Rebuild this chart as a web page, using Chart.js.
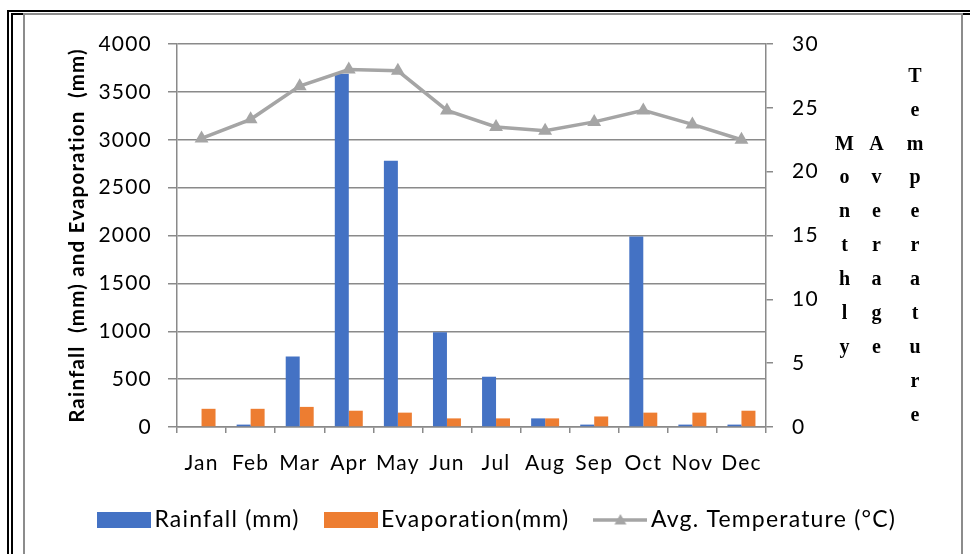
<!DOCTYPE html>
<html>
<head>
<meta charset="utf-8">
<script src="https://cdn.jsdelivr.net/npm/chart.js@4.4.1/dist/chart.umd.min.js"></script>
<style>
  html, body { margin: 0; padding: 0; background: #fff; }
  #wrap { position: relative; width: 970px; height: 554px; overflow: hidden; background: #fff; }
  .frame { position: absolute; box-sizing: border-box; }
  #outer { left: 7px; top: 10px; width: 1000px; height: 600px; border: 2px solid #000; }
  #inner { left: 11px; top: 13px; width: 1000px; height: 600px; border: 2px solid #000; }
  #panel { left: 23px; top: 13px; width: 940px; height: 600px; border: 2px solid #8c8c8c; background: #fff; }
  #c { position: absolute; left: 0; top: 0; }
</style>
</head>
<body>
<div id="wrap">
  <div class="frame" id="outer"></div>
  <div class="frame" id="inner"></div>
  <div class="frame" id="panel"></div>
  <canvas id="c" width="970" height="554"></canvas>
</div>
<script>
// Monthly climate record
const months = ['Jan', 'Feb', 'Mar', 'Apr', 'May', 'Jun', 'Jul', 'Aug', 'Sep', 'Oct', 'Nov', 'Dec'];
const rainfall = [0, 25, 735, 3690, 2780, 990, 525, 90, 25, 1990, 25, 25];
const evaporation = [190, 190, 210, 170, 150, 90, 90, 90, 110, 150, 150, 170];
const avgTemperature = [22.6, 24.1, 26.7, 28.0, 27.9, 24.8, 23.5, 23.2, 23.9, 24.8, 23.7, 22.5];

const seriesNames = ['Rainfall (mm)', 'Evaporation(mm)', 'Avg. Temperature (°C)'];
const leftAxisTitle = 'Rainfall  (mm) and Evaporation  (mm)';
const rightAxisWords = ['Monthly', 'Average', 'Temperature'];

const BLUE = '#4472C4';
const ORANGE = '#ED7D31';
const GREY = '#A5A5A5';
const GRID = '#8a8a8a';
const FONT = 'Lato';
const SPACING = '1.2px';

Chart.defaults.font.family = FONT;
Chart.defaults.color = '#000';

// Legend swatches drawn as small images
function swatch(draw) {
  const c = document.createElement('canvas');
  c.width = 54; c.height = 16;
  draw(c.getContext('2d'));
  return c;
}
const legendIcons = [
  swatch(g => { g.fillStyle = BLUE; g.fillRect(0, 0, 54, 16); }),
  swatch(g => { g.fillStyle = ORANGE; g.fillRect(0, 0, 54, 16); }),
  swatch(g => {
    g.strokeStyle = GREY; g.lineWidth = 3.5;
    g.beginPath(); g.moveTo(0, 8); g.lineTo(54, 8); g.stroke();
    g.fillStyle = GREY;
    g.beginPath(); g.moveTo(27, 2); g.lineTo(33, 12.5); g.lineTo(21, 12.5); g.closePath(); g.fill();
  })
];

// Slightly tracked lettering for all chart text
const tracking = {
  id: 'tracking',
  beforeLayout(chart) { chart.ctx.letterSpacing = SPACING; },
  beforeDraw(chart) { chart.ctx.letterSpacing = SPACING; }
};

// Stacked, letter-per-line title beside the right axis
const stackedTitle = {
  id: 'stackedTitle',
  afterDraw(chart) {
    const ctx = chart.ctx;
    const axis = chart.scales.y1;
    const area = chart.chartArea;
    const colX = [78.5, 110.5, 149];
    const rowGap = 33.9;
    const rows = Math.max(...rightAxisWords.map(w => w.length));
    const midY = (area.top + area.bottom) / 2;
    ctx.save();
    ctx.letterSpacing = '0px';
    ctx.font = 'bold 20px "Liberation Serif"';
    ctx.fillStyle = '#000';
    ctx.textAlign = 'center';
    ctx.textBaseline = 'alphabetic';
    rightAxisWords.forEach((word, ci) => {
      const start = (rows - word.length) / 2;
      [...word].forEach((ch, k) => {
        const row = start + k;
        const y = midY + 15.7 + (row - (rows - 1) / 2) * rowGap;
        ctx.fillText(ch, axis.left + colX[ci], y);
      });
    });
    ctx.restore();
  }
};

new Chart(document.getElementById('c'), {
  data: {
    labels: months,
    datasets: [
      { type: 'bar', label: seriesNames[0], data: rainfall, backgroundColor: BLUE, yAxisID: 'y',
        barPercentage: 1, categoryPercentage: 0.57, order: 1 },
      { type: 'bar', label: seriesNames[1], data: evaporation, backgroundColor: ORANGE, yAxisID: 'y',
        barPercentage: 1, categoryPercentage: 0.57, order: 1 },
      { type: 'line', label: seriesNames[2], data: avgTemperature, yAxisID: 'y1',
        borderColor: GREY, borderWidth: 3.5, tension: 0,
        pointStyle: 'triangle', pointRadius: 8, pointBackgroundColor: GREY,
        pointBorderColor: GREY, pointBorderWidth: 0, order: 0 }
    ]
  },
  options: {
    responsive: false,
    animation: false,
    layout: { padding: { left: 31, right: 0, top: 44, bottom: 12.5 } },
    plugins: {
      tooltip: { enabled: false },
      legend: {
        position: 'bottom',
        labels: {
          usePointStyle: true,
          pointStyleWidth: 38,
          boxHeight: 16,
          padding: 32,
          color: '#000',
          font: { family: FONT, size: 23 },
          generateLabels(chart) {
            return chart.data.datasets.map((ds, i) => ({
              text: ds.label,
              pointStyle: legendIcons[i],
              fillStyle: 'transparent',
              strokeStyle: 'transparent',
              lineWidth: 0,
              fontColor: '#000',
              hidden: false,
              datasetIndex: i
            }));
          }
        }
      }
    },
    scales: {
      x: {
        grid: { display: true, drawOnChartArea: false, drawTicks: true, tickLength: 6,
                color: GRID, lineWidth: 1.5, offset: true },
        border: { display: true, color: GRID, width: 1.5 },
        ticks: { font: { size: 21 }, color: '#000', padding: 18,
                 maxRotation: 0, minRotation: 0, autoSkip: false },
        afterFit(s) { s.height = 49.5; }
      },
      y: {
        position: 'left', min: 0, max: 4000,
        ticks: { stepSize: 500, font: { size: 21 }, color: '#000', padding: 16,
                 callback: v => String(v) },
        grid: { color: GRID, lineWidth: 1.5, tickLength: 9 },
        border: { display: true, color: GRID, width: 1.5 },
        title: { display: true, text: leftAxisTitle, color: '#000',
                 font: { family: FONT, size: 20.5, weight: 'bold' }, padding: { top: 33.7, bottom: 0 } },
        afterFit(s) { s.width = 146; }
      },
      y1: {
        position: 'right', min: 0, max: 30,
        ticks: { stepSize: 5, font: { size: 21 }, color: '#000', padding: 19,
                 callback: v => String(v) },
        grid: { drawOnChartArea: false, tickLength: 7, color: GRID, lineWidth: 1.5 },
        border: { display: true, color: GRID, width: 1.5 },
        afterFit(s) { s.width = 204; }
      }
    }
  },
  plugins: [tracking, stackedTitle]
});
</script>
</body>
</html>
